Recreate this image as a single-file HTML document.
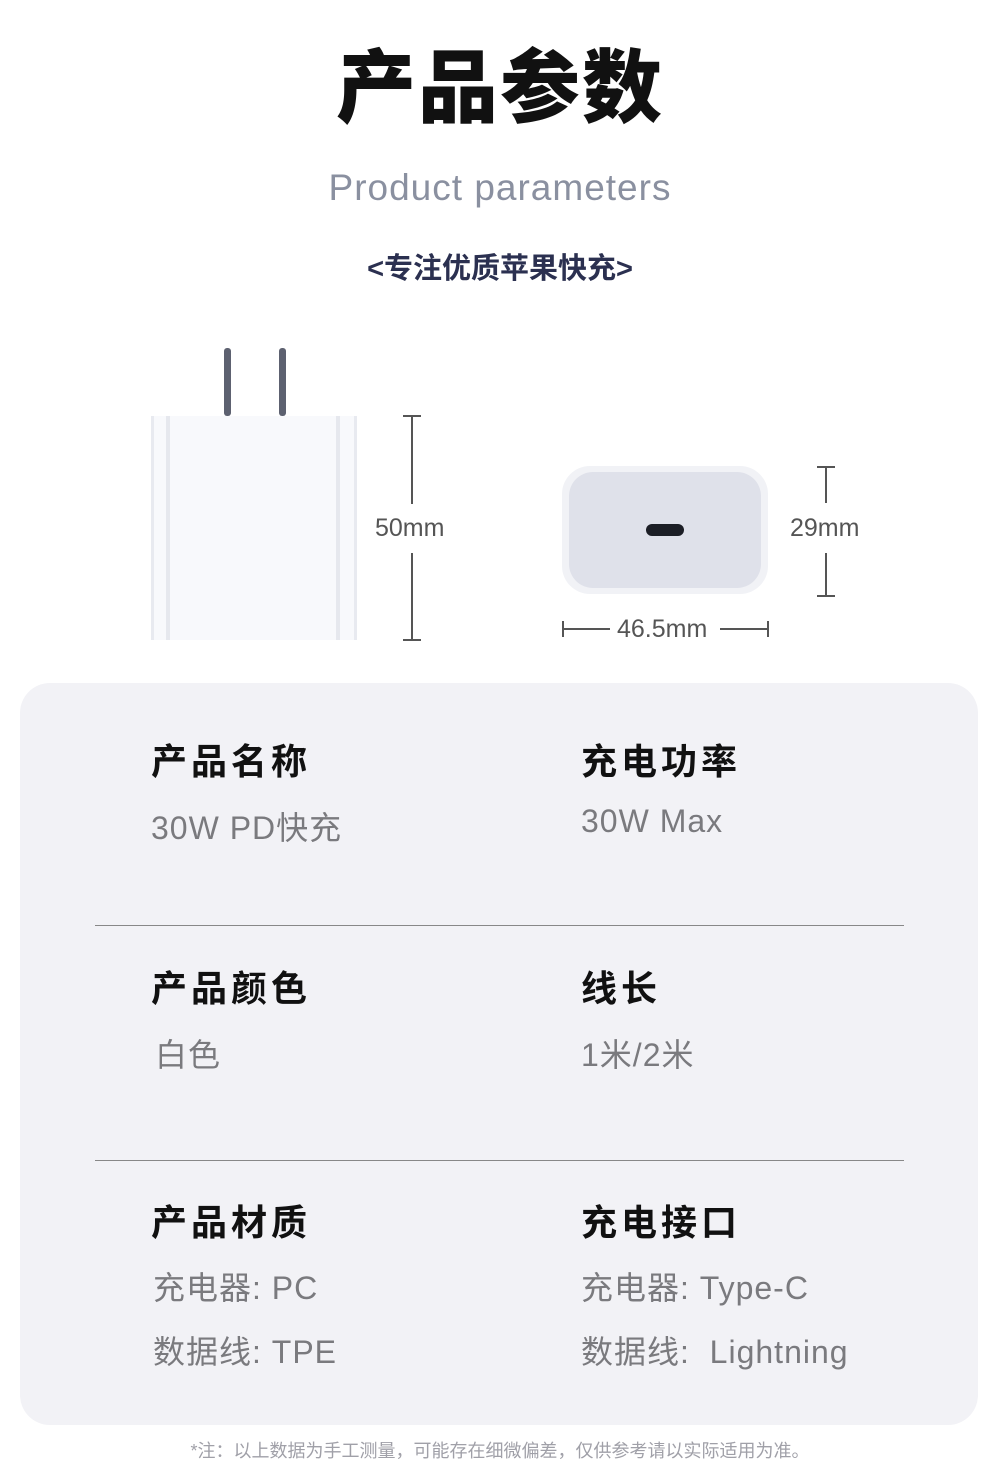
<!DOCTYPE html>
<html><head><meta charset="utf-8"><style>
*{margin:0;padding:0;box-sizing:border-box}
body{width:1000px;height:1466px;background:#fff;position:relative;font-family:"Liberation Sans","Noto Sans CJK SC",sans-serif;overflow:hidden}
.a{position:absolute;white-space:nowrap}
.t{font-size:36px;font-weight:bold;color:#111;letter-spacing:4px}
.v{font-size:32px;color:#7a7a7e;letter-spacing:1px}
.m{font-size:25px;color:#555}
.ln{position:absolute;background:#555}
</style></head><body>
<div class="a" style="left:0;width:1000px;top:24px;text-align:center;font-size:80px;font-weight:900;color:#111;letter-spacing:2px">产品参数</div>
<div class="a" style="left:0;width:1000px;top:167px;text-align:center;font-size:37px;color:#8a90a0;letter-spacing:1px">Product parameters</div>
<div class="a" style="left:0;width:1000px;top:245px;text-align:center;font-size:29px;font-weight:bold;color:#2b3050">&lt;专注优质苹果快充&gt;</div>

<div class="a" style="left:224px;top:348px;width:7px;height:68px;background:#5d6170;border-radius:3px"></div>
<div class="a" style="left:279px;top:348px;width:7px;height:68px;background:#5d6170;border-radius:3px"></div>
<div class="a" style="left:151px;top:416px;width:206px;height:224px;background:#f8f9fc;border-left:3px solid #e8eaf0;border-right:3px solid #e8eaf0"></div>
<div class="a" style="left:166px;top:416px;width:4px;height:224px;background:#e6e8ee"></div>
<div class="a" style="left:336px;top:416px;width:4px;height:224px;background:#e6e8ee"></div>
<div class="ln" style="left:411px;top:416px;width:2px;height:88px"></div>
<div class="ln" style="left:403px;top:415px;width:18px;height:2px"></div>
<div class="ln" style="left:411px;top:553px;width:2px;height:87px"></div>
<div class="ln" style="left:403px;top:639px;width:18px;height:2px"></div>
<div class="a m" style="left:375px;top:514px">50mm</div>

<div class="a" style="left:562px;top:466px;width:206px;height:128px;background:#f1f2f6;border-radius:28px"></div>
<div class="a" style="left:569px;top:472px;width:192px;height:116px;background:#dfe1ea;border-radius:24px"></div>
<div class="a" style="left:646px;top:524px;width:38px;height:12px;background:#1c1e26;border-radius:6px"></div>
<div class="ln" style="left:825px;top:466px;width:2px;height:37px"></div>
<div class="ln" style="left:817px;top:466px;width:18px;height:2px"></div>
<div class="ln" style="left:825px;top:553px;width:2px;height:43px"></div>
<div class="ln" style="left:817px;top:595px;width:18px;height:2px"></div>
<div class="a m" style="left:790px;top:514px">29mm</div>
<div class="ln" style="left:562px;top:628px;width:48px;height:2px"></div>
<div class="ln" style="left:562px;top:621px;width:2px;height:16px"></div>
<div class="ln" style="left:720px;top:628px;width:48px;height:2px"></div>
<div class="ln" style="left:767px;top:621px;width:2px;height:16px"></div>
<div class="a m" style="left:617px;top:615px">46.5mm</div>

<div class="a" style="left:20px;top:683px;width:958px;height:742px;background:#f2f2f6;border-radius:30px"></div>
<div class="a" style="left:95px;top:925px;width:809px;height:1px;background:#888"></div>
<div class="a" style="left:95px;top:1160px;width:809px;height:1px;background:#888"></div>

<div class="a t" style="left:151px;top:733px">产品名称</div>
<div class="a v" style="left:151px;top:803px">30W PD快充</div>
<div class="a t" style="left:581px;top:733px">充电功率</div>
<div class="a v" style="left:581px;top:803px">30W Max</div>

<div class="a t" style="left:151px;top:960px">产品颜色</div>
<div class="a v" style="left:155px;top:1030px">白色</div>
<div class="a t" style="left:581px;top:960px">线长</div>
<div class="a v" style="left:581px;top:1030px">1米/2米</div>

<div class="a t" style="left:151px;top:1194px">产品材质</div>
<div class="a v" style="left:153px;top:1263px">充电器: PC</div>
<div class="a v" style="left:153px;top:1327px">数据线: TPE</div>
<div class="a t" style="left:581px;top:1194px">充电接口</div>
<div class="a v" style="left:581px;top:1263px">充电器: Type-C</div>
<div class="a v" style="left:581px;top:1327px">数据线:&nbsp; Lightning</div>

<div class="a" style="left:0;width:1000px;top:1437px;text-align:center;font-size:18px;color:#a0a0a8">*注：以上数据为手工测量，可能存在细微偏差，仅供参考请以实际适用为准。</div>
</body></html>
